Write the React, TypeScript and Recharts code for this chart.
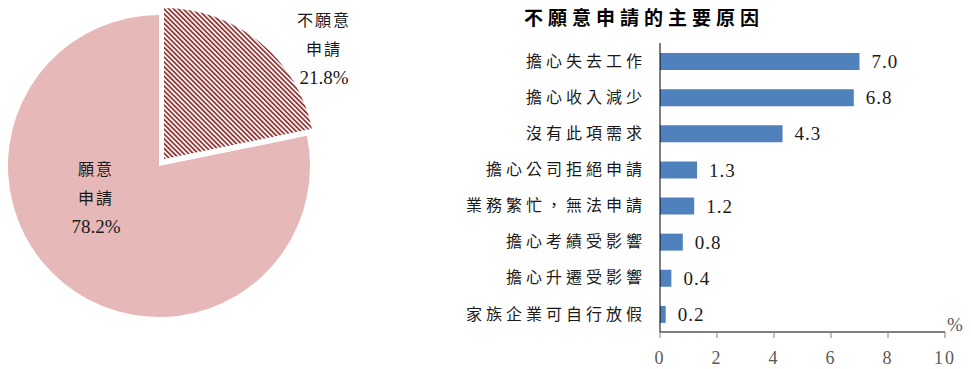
import { Bar, BarChart, Cell, LabelList, Pie, PieChart, XAxis, YAxis } from "recharts";

const shareNames = ["不願意申請", "願意申請"];
const shareLines = [["不願意", "申請"], ["願意", "申請"]];
const shareValues = [21.8, 78.2];

const reasons = [
  "擔心失去工作",
  "擔心收入減少",
  "沒有此項需求",
  "擔心公司拒絕申請",
  "業務繁忙，無法申請",
  "擔心考績受影響",
  "擔心升遷受影響",
  "家族企業可自行放假",
];
const reasonValues = [7.0, 6.8, 4.3, 1.3, 1.2, 0.8, 0.4, 0.2];
const xTicks = [0, 2, 4, 6, 8, 10];

const serif = "'Liberation Serif', 'Noto Sans CJK TC', serif";
const cjk = "'Noto Sans CJK TC', 'Liberation Serif', sans-serif";

const shareData = shareNames.map((name, i) => ({ name, value: shareValues[i] }));
const reasonData = reasons.map((name, i) => ({ name, value: reasonValues[i] }));

// label offsets relative to each pie's centre
const labelPos = [
  { dx: 160, dy: -139 },
  { dx: -63, dy: 3 },
];

function makeLabel(show: number) {
  return (props: any) => {
    const { cx, cy, index } = props;
    if (index !== show) return null;
    const p = labelPos[index];
    const x = cx + p.dx;
    const y = cy + p.dy;
    const lines = shareLines[index];
    return (
      <text x={x} y={y} textAnchor="middle" fill="#1a1a1a">
        <tspan x={x} y={y} dy="0.35em" fontFamily={cjk} fontSize={16} letterSpacing={2}>
          {lines[0]}
        </tspan>
        <tspan x={x} y={y + 29} dy="0.35em" fontFamily={cjk} fontSize={16} letterSpacing={2}>
          {lines[1]}
        </tspan>
        <tspan x={x} y={y + 57} dy="0.35em" fontFamily={serif} fontSize={19}>
          {shareValues[index].toFixed(1)}%
        </tspan>
      </text>
    );
  };
}

function CategoryTick(props: any) {
  const { x, y, payload } = props;
  return (
    <text x={x + 4} y={y} dy="0.35em" textAnchor="end" fontFamily={cjk} fontSize={16} letterSpacing={4} fill="#1a1a1a">
      {payload.value}
    </text>
  );
}

export default function App() {
  return (
    <div style={{ position: "absolute", left: 0, top: 0, width: 971, height: 369, background: "#fff" }}>
      <svg width={0} height={0} style={{ position: "absolute" }}>
        <defs>
          <pattern id="hatch" width={3.4} height={3.4} patternUnits="userSpaceOnUse" patternTransform="rotate(-45)">
            <rect width={3.4} height={3.4} fill="#fff" />
            <rect width={1.8} height={3.4} fill="#953735" />
          </pattern>
        </defs>
      </svg>

      <div style={{ position: "absolute", left: 0, top: 0 }}>
        <PieChart width={400} height={369} margin={{ top: 0, right: 0, bottom: 0, left: 0 }}>
          <Pie
            data={shareData}
            dataKey="value"
            cx={159}
            cy={166}
            outerRadius={151}
            startAngle={90}
            endAngle={-270}
            stroke="none"
            labelLine={false}
            label={makeLabel(1)}
            isAnimationActive={false}
          >
            <Cell fill="none" />
            <Cell fill="#E6B8B7" />
          </Pie>
          <Pie
            data={shareData}
            dataKey="value"
            cx={164}
            cy={159}
            outerRadius={151}
            startAngle={90}
            endAngle={-270}
            stroke="none"
            labelLine={false}
            label={makeLabel(0)}
            isAnimationActive={false}
          >
            <Cell fill="url(#hatch)" />
            <Cell fill="none" />
          </Pie>
        </PieChart>
      </div>

      <div
        style={{
          position: "absolute",
          left: 524,
          top: 4,
          fontFamily: cjk,
          fontWeight: 700,
          fontSize: 19,
          letterSpacing: 5,
          lineHeight: "25px",
          color: "#000",
          whiteSpace: "nowrap",
        }}
      >
        不願意申請的主要原因
      </div>

      <div style={{ position: "absolute", left: 440, top: 0 }}>
        <BarChart
          width={531}
          height={369}
          data={reasonData}
          layout="vertical"
          margin={{ top: 43, right: 26, bottom: 0, left: 0 }}
        >
          <XAxis
            type="number"
            domain={[0, 10]}
            ticks={xTicks}
            height={37}
            axisLine={{ stroke: "#000" }}
            tickLine={{ stroke: "#808080" }}
            tickSize={6}
            tickMargin={13}
            tick={{ fill: "#595959", fontFamily: serif, fontSize: 18, letterSpacing: 2 }}
          />
          <YAxis
            type="category"
            dataKey="name"
            width={220}
            axisLine={{ stroke: "#000" }}
            tickLine={false}
            tickSize={0}
            tickMargin={18}
            tick={<CategoryTick />}
            interval={0}
          />
          <Bar dataKey="value" fill="#4F81BD" barSize={17} isAnimationActive={false}>
            <LabelList
              dataKey="value"
              position="right"
              offset={12}
              formatter={(v: any) => Number(v).toFixed(1)}
              style={{ fill: "#1a1a1a", fontFamily: serif, fontSize: 19, letterSpacing: 1 }}
            />
          </Bar>
        </BarChart>
      </div>

      <div
        style={{
          position: "absolute",
          left: 947,
          top: 313,
          fontFamily: serif,
          fontSize: 19,
          lineHeight: "24px",
          color: "#595959",
        }}
      >
        %
      </div>
    </div>
  );
}
